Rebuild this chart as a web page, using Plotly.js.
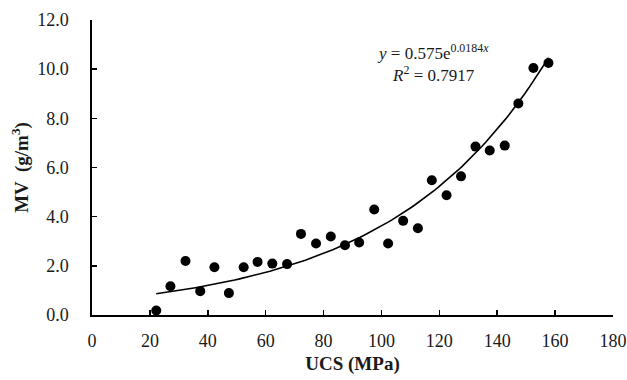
<!DOCTYPE html>
<html>
<head>
<meta charset="utf-8">
<script src="https://cdn.plot.ly/plotly-3.0.1.min.js"></script>
<style>
  html, body { margin: 0; padding: 0; background: #fff; }
  #chart { width: 627px; height: 380px; }
</style>
</head>
<body>
<div id="chart"></div>
<script>
// Uniaxial compressive strength (MPa) against MV (g/m3)
const ucs = [22.2, 27.1, 32.3, 37.4, 42.3, 47.3, 52.4, 57.2, 62.3, 67.4,
             72.2, 77.4, 82.5, 87.4, 92.3, 97.5, 102.3, 107.5, 112.6, 117.4,
             122.5, 127.5, 132.5, 137.4, 142.6, 147.3, 152.5, 157.7];
const mv  = [0.18, 1.17, 2.20, 0.97, 1.94, 0.89, 1.94, 2.16, 2.09, 2.07,
             3.30, 2.91, 3.19, 2.84, 2.95, 4.29, 2.91, 3.83, 3.53, 5.48,
             4.87, 5.64, 6.85, 6.69, 6.89, 8.60, 10.05, 10.25];

// Exponential trendline coefficients: y = a * e^(b x)
const fitA = 0.575;
const fitB = 0.0184;
const fitR2 = 0.7917;

const xTicks = [0, 20, 40, 60, 80, 100, 120, 140, 160, 180];
const yTicks = [0, 2, 4, 6, 8, 10, 12];

// Sample the fitted curve over the span of the data
const xMin = Math.min(...ucs), xMax = Math.max(...ucs);
const fitX = [], fitY = [];
for (let i = 0; i <= 100; i++) {
  const x = xMin + (xMax - xMin) * i / 100;
  fitX.push(x);
  fitY.push(fitA * Math.exp(fitB * x));
}

const serif = 'Liberation Serif, Times New Roman, serif';
const ink = '#1a1a1a';

const traces = [
  {
    x: fitX, y: fitY, type: 'scatter', mode: 'lines',
    line: { color: '#000', width: 1.6 },
    hoverinfo: 'skip', showlegend: false
  },
  {
    x: ucs, y: mv, type: 'scatter', mode: 'markers',
    marker: { color: '#000', size: 10 },
    showlegend: false
  }
];

const axisCommon = {
  showgrid: false, zeroline: false,
  showline: true, linecolor: '#000', linewidth: 1.6,
  ticks: 'inside', ticklen: 5, tickwidth: 1.6, tickcolor: '#000',
  tickfont: { family: serif, size: 18, color: ink },
  mirror: false
};

const plotW = 627 - 92 - 14, plotH = 295.5;

const layout = {
  width: 627, height: 380,
  margin: { l: 92, r: 14, t: 20, b: 64.5 },
  paper_bgcolor: '#fff', plot_bgcolor: '#fff',
  xaxis: Object.assign({}, axisCommon, {
    range: [0, 180], tickvals: xTicks, tickformat: 'd',
    ticklabelstandoff: 9,
    title: { text: '<b>UCS (MPa)</b>', font: { family: serif, size: 19, color: ink }, standoff: 6 }
  }),
  yaxis: Object.assign({}, axisCommon, {
    range: [0, 12], tickvals: yTicks, tickformat: '.1f',
    ticklabelstandoff: 18,
    title: { text: '<b>MV  (g/m<sup>3</sup>)</b>', font: { family: serif, size: 19, color: ink }, standoff: 3 }
  }),
  annotations: [
    {
      // trendline equation and coefficient of determination
      xref: 'paper', yref: 'paper', x: (433 - 92) / plotW, y: (315.5 - 63) / plotH,
      xanchor: 'center', yanchor: 'middle', align: 'center', showarrow: false,
      text: '<i>y</i> = ' + fitA + 'e<sup>' + fitB + '<i>x</i></sup><br>' +
            '<i>R</i><sup>2</sup> = ' + fitR2,
      font: { family: serif, size: 17, color: ink }
    }
  ]
};

Plotly.newPlot('chart', traces, layout, { displayModeBar: false, staticPlot: true });
</script>
</body>
</html>
